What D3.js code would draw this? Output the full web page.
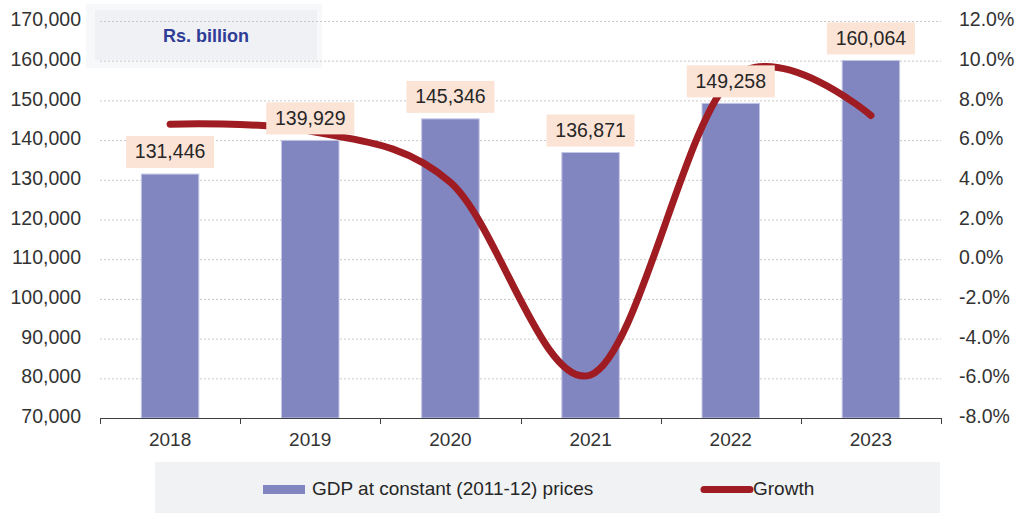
<!DOCTYPE html>
<html>
<head>
<meta charset="utf-8">
<script src="https://cdn.jsdelivr.net/npm/d3@7"></script>
<style>
  html, body { margin: 0; padding: 0; background: #fff; }
  svg { display: block; font-family: "Liberation Sans", Arial, sans-serif; }
</style>
</head>
<body>
<svg id="chart" width="1018" height="514"></svg>
<script>
// GDP at constant (2011-12) prices, Rs. billion, with annual growth
const years = ["2018", "2019", "2020", "2021", "2022", "2023"];
const gdp = [131446, 139929, 145346, 136871, 149258, 160064];
const growth = [6.8, 6.45, 3.87, -5.83, 9.05, 7.24];
const leftTicks = [70000, 80000, 90000, 100000, 110000, 120000, 130000, 140000, 150000, 160000, 170000];
const rightTicks = [-8, -6, -4, -2, 0, 2, 4, 6, 8, 10, 12];
const unitLabel = "Rs. billion";
const seriesNames = ["GDP at constant (2011-12) prices", "Growth"];

const svg = d3.select("#chart");
const plot = { left: 100, right: 941, top: 21, bottom: 418 };

const x = d3.scaleBand().domain(years).range([plot.left, plot.right]).paddingInner(0.59).paddingOuter(0.295);
const xc = d3.scaleBand().domain(years).range([plot.left, plot.right]);
const yL = d3.scaleLinear().domain([70000, 170000]).range([plot.bottom, plot.top]);
const yR = d3.scaleLinear().domain([-8, 12]).range([plot.bottom, plot.top]);

const fmtNum = d3.format(",");
const fmtPct = d => d.toFixed(1) + "%";
const textCol = "#333333";

// title box
svg.append("rect").attr("x", 86).attr("y", 4).attr("width", 236).attr("height", 64).attr("fill", "#f7f8f9");
svg.append("rect").attr("x", 95).attr("y", 10).attr("width", 222).attr("height", 50).attr("fill", "#f0f1f4");

// dotted gridlines
svg.append("g").selectAll("line").data(leftTicks.slice(1)).join("line")
  .attr("x1", plot.left).attr("x2", plot.right)
  .attr("y1", d => yL(d) + 0.5).attr("y2", d => yL(d) + 0.5)
  .attr("stroke", "#c9c9c9").attr("stroke-width", 1).attr("stroke-dasharray", "2,2");

svg.append("text").attr("x", 206).attr("y", 37).attr("text-anchor", "middle")
  .attr("dominant-baseline", "middle").attr("font-weight", "bold").attr("font-size", 18)
  .attr("fill", "#2f3d96").text(unitLabel);

// left axis labels
svg.append("g").selectAll("text").data(leftTicks).join("text")
  .attr("x", 81).attr("y", d => yL(d)).attr("text-anchor", "end").attr("dominant-baseline", "middle")
  .attr("font-size", 19.5).attr("fill", textCol).text(d => fmtNum(d));

// right axis labels
svg.append("g").selectAll("text").data(rightTicks).join("text")
  .attr("x", 959).attr("y", d => yR(d)).attr("text-anchor", "start").attr("dominant-baseline", "middle")
  .attr("font-size", 19.5).attr("fill", textCol).text(d => fmtPct(d));

// bars
svg.append("g").selectAll("rect").data(years).join("rect")
  .attr("x", (d) => x(d)).attr("width", x.bandwidth())
  .attr("y", (d, i) => yL(gdp[i])).attr("height", (d, i) => plot.bottom - yL(gdp[i]))
  .attr("fill", "#8185c0").attr("stroke", "#c5c7e6").attr("stroke-width", 1);

// x axis
const xAxis = svg.append("g");
xAxis.append("line").attr("x1", plot.left).attr("x2", plot.right)
  .attr("y1", plot.bottom + 0.5).attr("y2", plot.bottom + 0.5).attr("stroke", "#404040");
xAxis.selectAll("line.tk").data(years.concat(["end"])).join("line").attr("class", "tk")
  .attr("x1", (d, i) => Math.round(plot.left + i * xc.step()) + 0.5)
  .attr("x2", (d, i) => Math.round(plot.left + i * xc.step()) + 0.5)
  .attr("y1", plot.bottom).attr("y2", plot.bottom + 6).attr("stroke", "#404040");
xAxis.selectAll("text").data(years).join("text")
  .attr("x", d => xc(d) + xc.bandwidth() / 2).attr("y", 441)
  .attr("text-anchor", "middle").attr("dominant-baseline", "middle")
  .attr("font-size", 19).attr("fill", textCol).text(d => d);

// growth line
const line = d3.line()
  .x((d, i) => xc(years[i]) + xc.bandwidth() / 2)
  .y(d => yR(d))
  .curve(d3.curveCardinal.tension(0));
svg.append("path").datum(growth).attr("d", line)
  .attr("fill", "none").attr("stroke", "#9f1c22").attr("stroke-width", 7)
  .attr("stroke-linecap", "round").attr("stroke-linejoin", "round");

// value labels
const lbl = svg.append("g").selectAll("g").data(years).join("g")
  .attr("transform", (d, i) => `translate(${xc(d) + xc.bandwidth() / 2},${yL(gdp[i]) - 22})`);
lbl.append("rect").attr("x", -44).attr("y", -16).attr("width", 88).attr("height", 32).attr("fill", "#fbe3d6");
lbl.append("text").attr("text-anchor", "middle").attr("dominant-baseline", "middle").attr("y", 1)
  .attr("font-size", 19.5).attr("fill", "#262626").text((d, i) => fmtNum(gdp[i]));

// legend
const lg = svg.append("g");
lg.append("rect").attr("x", 155).attr("y", 462).attr("width", 785).attr("height", 51).attr("fill", "#f1f2f4");
lg.append("rect").attr("x", 263).attr("y", 485).attr("width", 42).attr("height", 9).attr("fill", "#8185c0");
lg.append("text").attr("x", 312).attr("y", 490).attr("dominant-baseline", "middle")
  .attr("font-size", 19).attr("fill", "#262626").text(seriesNames[0]);
lg.append("line").attr("x1", 704).attr("x2", 750).attr("y1", 489.5).attr("y2", 489.5)
  .attr("stroke", "#9f1c22").attr("stroke-width", 7).attr("stroke-linecap", "round");
lg.append("text").attr("x", 753).attr("y", 490).attr("dominant-baseline", "middle")
  .attr("font-size", 19).attr("fill", "#262626").text(seriesNames[1]);
</script>
</body>
</html>
